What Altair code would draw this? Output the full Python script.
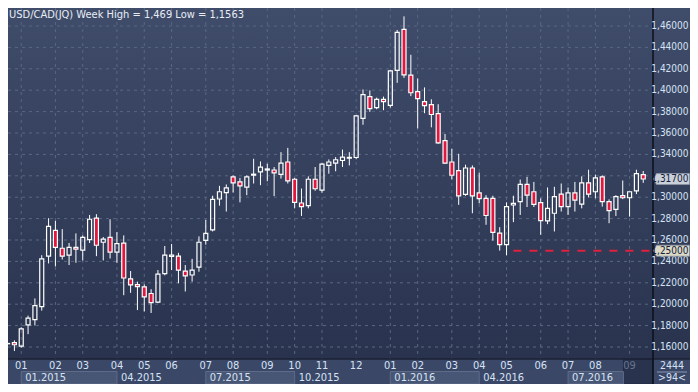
import altair as alt
import pandas as pd
import numpy as np

# ---------------- data ----------------
week_index = list(range(-2, 92))
open_ = [1.1630, 1.1640, 1.1609, 1.1806, 1.1856, 1.1977, 1.2449, 1.2690, 1.2523, 1.2458,
         1.2532, 1.2505, 1.2603, 1.2804, 1.2579, 1.2625, 1.2486, 1.2570, 1.2236, 1.2183,
         1.2162, 1.2100, 1.2019, 1.2285, 1.2446, 1.2449, 1.2310, 1.2273, 1.2347, 1.2597,
         1.2695, 1.2983, 1.3042, 1.3190, 1.3143, 1.3094, 1.3206, 1.3236, 1.3254, 1.3254,
         1.3214, 1.3329, 1.3168, 1.2946, 1.2921, 1.3168, 1.3066, 1.3297, 1.3319, 1.3343,
         1.3365, 1.3371, 1.3736, 1.3940, 1.3838, 1.3915, 1.3859, 1.4186, 1.4569, 1.4140,
         1.3986, 1.3893, 1.3866, 1.3782, 1.3529, 1.3329, 1.3248, 1.3026, 1.3273, 1.3041,
         1.2989, 1.2989, 1.2665, 1.2556, 1.2927, 1.2958, 1.3119, 1.3051, 1.2949, 1.2779,
         1.2850, 1.3029, 1.2912, 1.3041, 1.2936, 1.3134, 1.3051, 1.3190, 1.2958, 1.2887,
         1.3014, 1.2995, 1.3060, 1.3211]
high = [1.1637, 1.1662, 1.1785, 1.1893, 1.2054, 1.2458, 1.2804, 1.2779, 1.2702, 1.2572,
        1.2662, 1.2643, 1.2834, 1.2841, 1.2628, 1.2794, 1.2674, 1.2643, 1.2310, 1.2211,
        1.2186, 1.2140, 1.2319, 1.2544, 1.2563, 1.2480, 1.2366, 1.2424, 1.2634, 1.2788,
        1.3014, 1.3106, 1.3119, 1.3204, 1.3180, 1.3204, 1.3359, 1.3334, 1.3313, 1.3282,
        1.3421, 1.3461, 1.3180, 1.3081, 1.3195, 1.3282, 1.3319, 1.3353, 1.3375, 1.3445,
        1.3421, 1.3767, 1.4007, 1.3998, 1.3931, 1.3940, 1.4190, 1.4563, 1.4690, 1.4331,
        1.4109, 1.4026, 1.3915, 1.3869, 1.3591, 1.3452, 1.3406, 1.3304, 1.3297, 1.3230,
        1.3019, 1.3014, 1.2720, 1.2952, 1.3014, 1.3165, 1.3190, 1.3143, 1.2989, 1.3091,
        1.3097, 1.3128, 1.3091, 1.3143, 1.3195, 1.3257, 1.3211, 1.3204, 1.2980, 1.3019,
        1.3156, 1.3051, 1.3257, 1.3245]
low = [1.1624, 1.1563, 1.1593, 1.1720, 1.1801, 1.1940, 1.2381, 1.2353, 1.2418, 1.2366,
       1.2387, 1.2409, 1.2572, 1.2449, 1.2409, 1.2427, 1.2387, 1.2084, 1.2106, 1.1945,
       1.1933, 1.1918, 1.2010, 1.2270, 1.2319, 1.2195, 1.2119, 1.2211, 1.2304, 1.2556,
       1.2680, 1.2921, 1.2866, 1.3044, 1.2952, 1.3019, 1.3128, 1.3112, 1.3149, 1.3010,
       1.3174, 1.3128, 1.2896, 1.2825, 1.2896, 1.3060, 1.3042, 1.3220, 1.3242, 1.3282,
       1.3297, 1.3355, 1.3677, 1.3797, 1.3822, 1.3813, 1.3838, 1.4069, 1.4115, 1.3945,
       1.3643, 1.3785, 1.3653, 1.3498, 1.3313, 1.3165, 1.2928, 1.3013, 1.2850, 1.2943,
       1.2742, 1.2594, 1.2501, 1.2458, 1.2767, 1.2834, 1.2908, 1.2908, 1.2649, 1.2748,
       1.2680, 1.2866, 1.2834, 1.2866, 1.2896, 1.2998, 1.2989, 1.2912, 1.2757, 1.2825,
       1.2982, 1.2819, 1.3029, 1.3134]
close = [1.1633, 1.1621, 1.1769, 1.1869, 1.1986, 1.2424, 1.2727, 1.2532, 1.2449, 1.2532,
         1.2514, 1.2625, 1.2794, 1.2551, 1.2609, 1.2486, 1.2566, 1.2245, 1.2180, 1.2165,
         1.2069, 1.2014, 1.2282, 1.2458, 1.2458, 1.2319, 1.2264, 1.2319, 1.2579, 1.2662,
         1.2980, 1.3051, 1.3088, 1.3134, 1.3106, 1.3190, 1.3215, 1.3282, 1.3264, 1.3227,
         1.3319, 1.3153, 1.2952, 1.2912, 1.3168, 1.3079, 1.3310, 1.3329, 1.3350, 1.3375,
         1.3372, 1.3760, 1.3958, 1.3828, 1.3915, 1.3893, 1.4180, 1.4541, 1.4143, 1.3976,
         1.3921, 1.3856, 1.3773, 1.3507, 1.3319, 1.3205, 1.3013, 1.3273, 1.3013, 1.2986,
         1.2829, 1.2671, 1.2556, 1.2912, 1.2943, 1.3119, 1.3019, 1.2933, 1.2782, 1.2896,
         1.3005, 1.2912, 1.3041, 1.2973, 1.3134, 1.3029, 1.3180, 1.2958, 1.2875, 1.3005,
         1.2995, 1.3051, 1.3220, 1.3170]

price_ticks = [1.16, 1.18, 1.20, 1.22, 1.24, 1.26, 1.28, 1.30, 1.32, 1.34,
               1.36, 1.38, 1.40, 1.42, 1.44, 1.46]
month_index = [0, 5, 9, 14, 18, 22, 27, 31, 36, 40, 44, 49,
               54, 58, 63, 67, 71, 76, 80, 84, 89]
month_label = ["01", "02", "03", "04", "05", "06", "07", "08", "09", "10", "11", "12",
               "01", "02", "03", "04", "05", "06", "07", "08", "09"]
quarter_start = [0, 14, 27, 40, 54, 67, 80]
quarter_end = [14, 27, 40, 54, 67, 80, 88.1]
quarter_label = ["01.2015", "04.2015", "07.2015", "10.2015", "01.2016", "04.2016", "07.2016"]
quarter_boxed = [True, False, True, False, True, False, True]
future_start = 88.1
last_close = 1.317
support_level = 1.25
support_start = 72
title_text = "USD/CAD(JQ) Week High = 1,469 Low = 1,1563"
corner_text = ["2444", ">94<"]

# ---------------- layout ----------------
W, H = 645, 351          # plot area
PR, PB = 37, 25          # right axis strip, bottom axis strip  -> 682 x 376 total
X0 = -1.204
X1 = X0 + W / 6.943
Y0, Y1 = 1.14879, 1.47682
FONT = "Liberation Sans Narrow, Arial Narrow, DejaVu Sans Condensed, sans-serif"
LBL = "#d6e2f4"
RIGHT_EDGE = W + PR - 1.5

xs = alt.Scale(domain=[X0, X1], nice=False, zero=False)
ys = alt.Scale(domain=[Y0, Y1], nice=False, zero=False)

df = pd.DataFrame({"i": week_index, "open": open_, "high": high, "low": low, "close": close})
df["top"] = df[["open", "close"]].max(axis=1)
df["bot"] = df[["open", "close"]].min(axis=1)
df["dir"] = np.where(df["close"] >= df["open"], "up", "down")

one = pd.DataFrame({"a": [0]})

bg = alt.Chart(one).mark_rect(
    fill=alt.LinearGradient(gradient="linear",
                            stops=[alt.GradientStop(offset=0, color="#3f4c6a"),
                                   alt.GradientStop(offset=1, color="#29334e")],
                            x1=0, x2=0, y1=0, y2=1)
).encode(x=alt.value(0), x2=alt.value(W + PR), y=alt.value(0), y2=alt.value(H))

bottom_bg = alt.Chart(one).mark_rect(fill="#3a4767").encode(
    x=alt.value(0), x2=alt.value(W + PR), y=alt.value(H), y2=alt.value(H + PB))

grid_df = pd.DataFrame({"v": price_ticks})
hgrid = alt.Chart(grid_df).mark_rule(color="#5a6782", strokeWidth=1, strokeDash=[3, 4]).encode(
    y=alt.Y("v:Q", scale=ys, axis=None), x=alt.value(0), x2=alt.value(W))

ylabels = alt.Chart(grid_df[np.abs(grid_df["v"] - last_close) > 0.004]).transform_calculate(
    label="replace(format(datum.v, '.5f'), '.', ',')"
).mark_text(align="right", baseline="middle", font=FONT, fontSize=10, color=LBL).encode(
    x=alt.value(RIGHT_EDGE), y=alt.Y("v:Q", scale=ys, axis=None), text="label:N")

mdf = pd.DataFrame({"i": month_index, "label": month_label})
mdf["tone"] = np.where(mdf["i"] >= future_start, "muted", "normal")
vgrid = alt.Chart(mdf).mark_rule(color="#5a6782", strokeWidth=1, strokeDash=[3, 4]).encode(
    x=alt.X("i:Q", scale=xs, axis=None), y=alt.value(0), y2=alt.value(H))

future_box = alt.Chart(pd.DataFrame({"i": [future_start]})).mark_rect(
    fill="#29334e", stroke="#222a42", strokeWidth=1).encode(
    x=alt.X("i:Q", scale=xs, axis=None), x2=alt.value(W), y=alt.value(H), y2=alt.value(H + PB))

qdf = pd.DataFrame({"s": quarter_start, "e": quarter_end, "label": quarter_label, "boxed": quarter_boxed})
qboxes = alt.Chart(qdf[qdf["boxed"]]).mark_rect(fill="#485675", stroke="#5e6c8a", strokeWidth=1).encode(
    x=alt.X("s:Q", scale=xs, axis=None), x2="e:Q", y=alt.value(H + 12.5), y2=alt.value(H + PB))
qtext = alt.Chart(qdf).mark_text(align="left", baseline="middle", dx=4, font=FONT, fontSize=11,
                                 color=LBL).encode(
    x=alt.X("s:Q", scale=xs, axis=None), y=alt.value(H + 19), text="label:N")

mtext = alt.Chart(mdf).mark_text(align="center", baseline="middle", font=FONT, fontSize=11).encode(
    x=alt.X("i:Q", scale=xs, axis=None), y=alt.value(H + 7), text="label:N",
    color=alt.Color("tone:N", scale=alt.Scale(domain=["normal", "muted"], range=[LBL, "#66748e"]),
                    legend=None))

candles = alt.Chart(df)
upper_wick = candles.mark_rule(color="white", strokeWidth=1, clip=True).encode(
    x=alt.X("i:Q", scale=xs, axis=None), y=alt.Y("top:Q", scale=ys, axis=None), y2="high:Q")
lower_wick = candles.mark_rule(color="white", strokeWidth=1, clip=True).encode(
    x=alt.X("i:Q", scale=xs, axis=None), y=alt.Y("low:Q", scale=ys, axis=None), y2="bot:Q")
bodies = candles.mark_bar(size=4, stroke="white", strokeWidth=1.2, clip=True).encode(
    x=alt.X("i:Q", scale=xs, axis=None), y=alt.Y("open:Q", scale=ys, axis=None), y2="close:Q",
    fill=alt.Fill("dir:N", scale=alt.Scale(domain=["up", "down"], range=["rgba(0,0,0,0)", "#e3173d"]),
                  legend=None))

sup = alt.Chart(pd.DataFrame({"i": [support_start], "v": [support_level]})).mark_rule(
    color="#e0203c", strokeWidth=2, strokeDash=[8, 8]).encode(
    x=alt.X("i:Q", scale=xs, axis=None), x2=alt.value(W), y=alt.Y("v:Q", scale=ys, axis=None))

edge_bottom = alt.Chart(one).mark_rule(color="#1b2236", strokeWidth=1.5).encode(
    x=alt.value(0), x2=alt.value(W + PR), y=alt.value(H))
edge_right = alt.Chart(one).mark_rule(color="#0c0f18", strokeWidth=1.5).encode(
    x=alt.value(W), y=alt.value(0), y2=alt.value(H + PB))

tdf = pd.DataFrame({"v": [last_close, support_level], "kind": ["last", "level"]})
tag_shape = "M-1,0L-0.833,-0.306L1,-0.306L1,0.306L-0.833,0.306Z"
tags = alt.Chart(tdf).mark_point(shape=tag_shape, size=1296, filled=True, opacity=1,
                                 stroke="#8a93a3", strokeWidth=0.8).encode(
    x=alt.value(W + 18.5), y=alt.Y("v:Q", scale=ys, axis=None),
    fill=alt.Fill("kind:N", scale=alt.Scale(domain=["last", "level"], range=["#c9d0da", "#dcdac6"]),
                  legend=None))
tag_text = alt.Chart(tdf).transform_calculate(
    label="replace(format(datum.v, '.5f'), '.', ',')"
).mark_text(align="right", baseline="middle", font=FONT, fontSize=10, color="#16203a").encode(
    x=alt.value(RIGHT_EDGE), y=alt.Y("v:Q", scale=ys, axis=None), text="label:N")

title = alt.Chart(pd.DataFrame({"t": [title_text]})).mark_text(
    align="left", baseline="alphabetic", font=FONT, fontSize=11, color="#e8edf5").encode(
    x=alt.value(1), y=alt.value(10), text="t:N")

cdf = pd.DataFrame({"t": corner_text, "y": [H + 7, H + 19]})
corner = alt.Chart(cdf).mark_text(align="center", baseline="middle", font=FONT, fontSize=10.5,
                                  color=LBL).encode(
    x=alt.value(W + 19), y=alt.Y("y:Q", scale=None), text="t:N")
corner_line = alt.Chart(one).mark_rule(color="#8896b2", strokeWidth=1).encode(
    x=alt.value(W + 4), x2=alt.value(W + 34), y=alt.value(H + 13))

chart = alt.layer(
    bg, bottom_bg, hgrid, vgrid, future_box, qboxes, qtext, mtext,
    upper_wick, lower_wick, bodies, sup, edge_bottom, edge_right,
    ylabels, tags, tag_text, title, corner, corner_line
).resolve_scale(
    fill="independent"
).properties(
    width=W, height=H,
    padding={"left": 0, "top": 0, "right": PR, "bottom": PB},
    autosize=alt.AutoSizeParams(type="none"),
).configure_view(stroke=None).configure(background="#34405c")

chart.save("out.html", embed_options={"renderer": "svg", "actions": False})
